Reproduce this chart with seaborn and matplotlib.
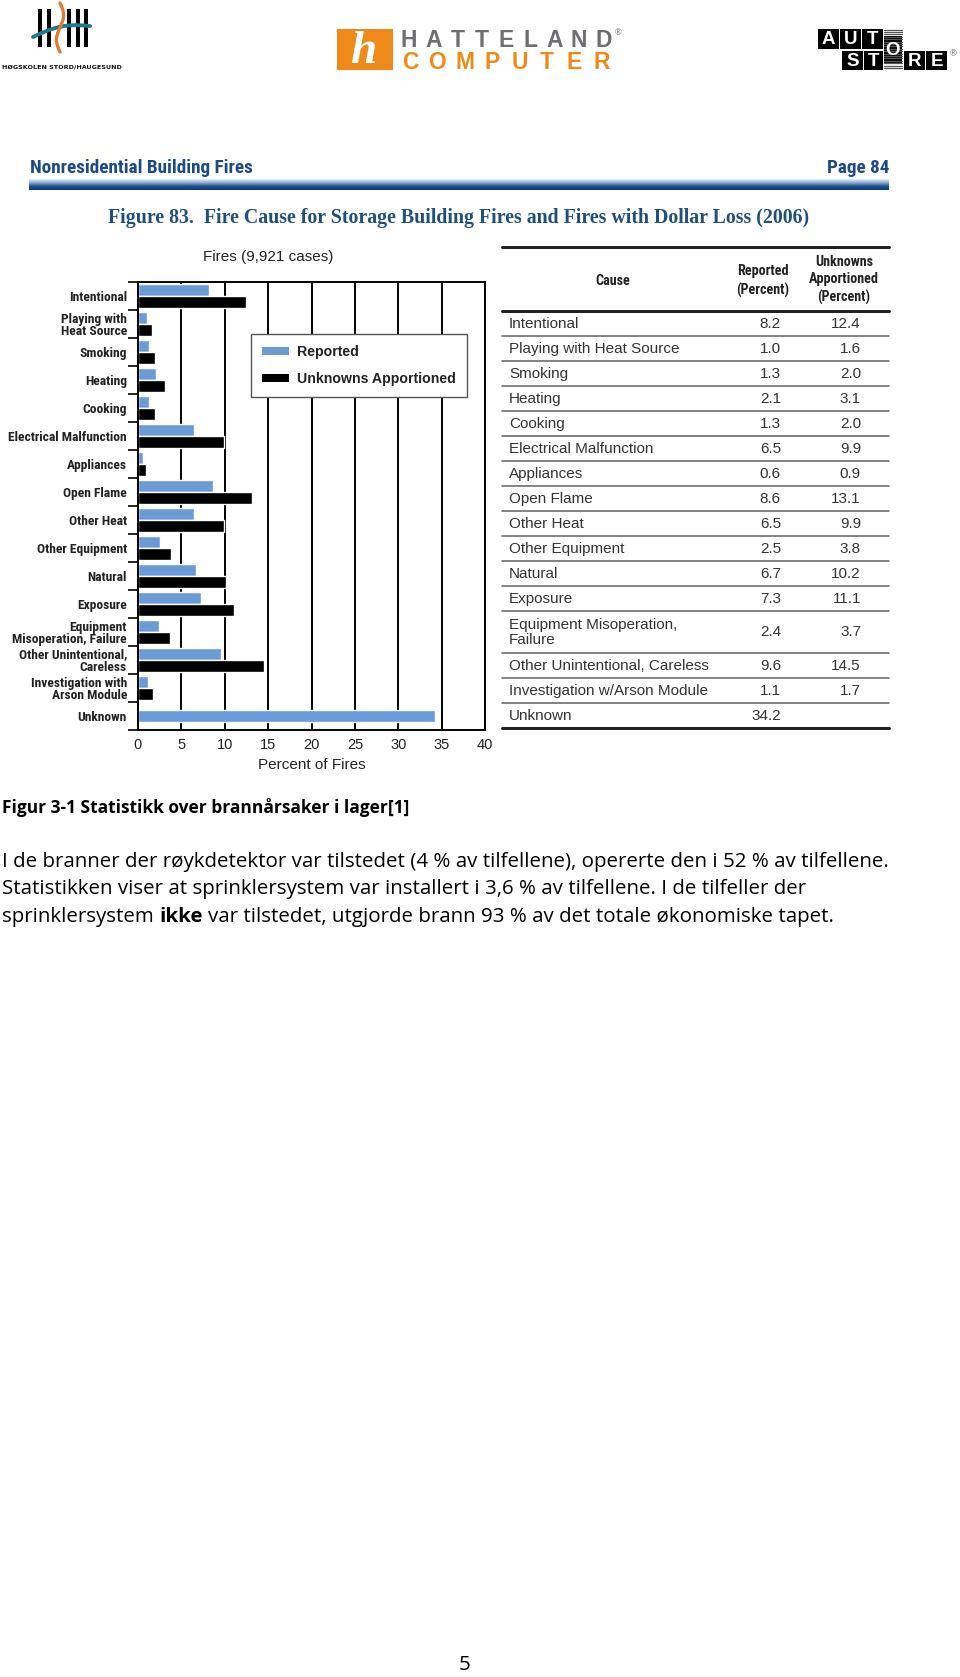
import numpy as np
import pandas as pd
import matplotlib
matplotlib.use("Agg")
import matplotlib.pyplot as plt
import seaborn as sns
from matplotlib import font_manager as fm
from matplotlib.patches import Rectangle, Patch
from matplotlib.colors import LinearSegmentedColormap

# ---------------- data ----------------
chart_labels = ["Intentional", "Playing with\nHeat Source", "Smoking", "Heating", "Cooking",
                "Electrical Malfunction", "Appliances", "Open Flame", "Other Heat",
                "Other Equipment", "Natural", "Exposure", "Equipment\nMisoperation, Failure",
                "Other Unintentional,\nCareless", "Investigation with\nArson Module", "Unknown"]
table_labels = ["Intentional", "Playing with Heat Source", "Smoking", "Heating", "Cooking",
                "Electrical Malfunction", "Appliances", "Open Flame", "Other Heat",
                "Other Equipment", "Natural", "Exposure", "Equipment Misoperation,\nFailure",
                "Other Unintentional, Careless", "Investigation w/Arson Module", "Unknown"]
reported = [8.2, 1.0, 1.3, 2.1, 1.3, 6.5, 0.6, 8.6, 6.5, 2.5, 6.7, 7.3, 2.4, 9.6, 1.1, 34.2]
unknowns_apportioned = [12.4, 1.6, 2.0, 3.1, 2.0, 9.9, 0.9, 13.1, 9.9, 3.8, 10.2, 11.1, 3.7,
                        14.5, 1.7, np.nan]
series_names = ["Reported", "Unknowns Apportioned"]
x_ticks = [0, 5, 10, 15, 20, 25, 30, 35, 40]
table_headers = ["Cause", "Reported\n(Percent)", "Unknowns\nApportioned\n(Percent)"]

page_header = "Nonresidential Building Fires"
page_label = "Page 84"
figure_title = "Figure 83.  Fire Cause for Storage Building Fires and Fires with Dollar Loss (2006)"
chart_title = "Fires (9,921 cases)"
x_label = "Percent of Fires"
caption = "Figur 3-1 Statistikk over brannårsaker i lager[1]"
body_line1 = "I de branner der røykdetektor var tilstedet (4 % av tilfellene), opererte den i 52 % av tilfellene."
body_line2 = "Statistikken viser at sprinklersystem var installert i 3,6 % av tilfellene. I de tilfeller der"
body_line3 = ["sprinklersystem", "ikke", "var tilstedet, utgjorde brann 93 % av det totale økonomiske tapet."]
page_number = "5"

# ---------------- fonts ----------------
avail = {f.name for f in fm.fontManager.ttflist}
def pick(*names):
    for n in names:
        if n in avail:
            return n
    return "DejaVu Sans"
SANS = pick("Liberation Sans", "Arimo", "DejaVu Sans")
SERIF = pick("Liberation Serif", "DejaVu Serif")
BODY = pick("Open Sans", "Lato", "Liberation Sans")

def find_condensed(bold=True):
    best = None
    for f in fm.fontManager.ttflist:
        fn = f.fname.lower()
        is_cond = ("narrow" in f.name.lower() or "condensed" in f.name.lower()
                   or "condensed" in fn or "narrow" in fn
                   or f.stretch in ("condensed", "semi-condensed"))
        if not is_cond or "extra" in fn or "ultra" in fn or "italic" in fn or "oblique" in fn:
            continue
        if f.style != "normal":
            continue
        w = f.weight if isinstance(f.weight, int) else (700 if "bold" in str(f.weight) else 400)
        if bold and w < 600:
            continue
        if not bold and w >= 600:
            continue
        if "semibold" in fn or "semi" in fn and "bold" in fn:
            if bold:
                continue
        rank = 5
        for i, key in enumerate(["liberation", "roboto", "noto", "open", "dejavu"]):
            if key in fn:
                rank = i
                break
        if best is None or rank < best[0]:
            best = (rank, f.fname)
    if best:
        return fm.FontProperties(fname=best[1])
    return fm.FontProperties(family=SANS, weight="bold" if bold else "normal")

COND_B = find_condensed(True)

sns.set_style("white")
plt.rcParams["font.family"] = [SANS, "DejaVu Sans"]

BLUE = "#6b9bd6"
TXT = "#333333"
W, H = 960, 1677

def P(px):
    return px * 0.72

fig = plt.figure(figsize=(W / 100, H / 100), dpi=100)
fig.patch.set_facecolor("white")
renderer = fig.canvas.get_renderer()

ov = fig.add_axes([0, 0, 1, 1])
ov.set_xlim(0, W)
ov.set_ylim(H, 0)
ov.axis("off")

def fp_size(fp, size):
    q = fp.copy()
    q.set_size(size)
    return q

def fit(text, target_px, fp=None, **kw):
    if fp is not None:
        t = ov.text(0, 0, text, fontproperties=fp_size(fp, 10))
    else:
        t = ov.text(0, 0, text, fontsize=10, **kw)
    w = t.get_window_extent(renderer).width
    t.remove()
    return 10 * target_px / w

# ---------------- logos ----------------
for bx in [38, 47, 67, 76, 84]:
    ov.add_patch(Rectangle((bx, 9), 4.0, 38, color="black", lw=0))
tt = np.linspace(0, 1, 50)
ov.plot(33 + 57 * tt, 37 - 11 * tt - 5 * np.sin(np.pi * tt), color="#1f7a8c", lw=2.8,
        solid_capstyle="round")
yy = np.linspace(3, 52, 60)
ov.plot(60 + 3.5 * np.sin((yy - 3) / 49 * 2 * np.pi), yy, color="#e07b39", lw=2.4)
ov.text(2, 67, "HØGSKOLEN STORD/HAUGESUND", fontsize=4.6, fontweight="bold",
        family=["DejaVu Sans"], va="center", ha="left", color="#111")

ov.add_patch(Rectangle((337, 29), 56, 41, color="#ef8a1a", lw=0))
ov.text(363, 52, "h", fontsize=34, color="white", style="italic", family=[SERIF],
        ha="center", va="center", fontweight="bold")
for i, ch in enumerate("HATTELAND"):
    ov.text(409 + i * 24.3, 40, ch, fontsize=16.5, color="#6d6e71", ha="center", va="center",
            family=[SANS], fontweight="bold")
for i, ch in enumerate("COMPUTER"):
    ov.text(410 + i * 27.4, 62, ch, fontsize=16.5, color="#ef8a1a", ha="center", va="center",
            family=[SANS], fontweight="bold")
ov.text(618, 33, "®", fontsize=6.5, color="#6d6e71", ha="center", va="center")

for y in np.arange(29.5, 70, 2.4):
    ov.plot([884, 902], [y, y], color="#555", lw=0.9)
for (x0, x1, y0, y1, ch) in [(818, 839, 29, 49, "A"), (840, 861, 29, 49, "U"),
                             (862, 883, 29, 49, "T"), (842, 863, 51, 70, "S"),
                             (864, 883, 51, 70, "T"), (884, 902, 36, 63, "O"),
                             (904, 925, 51, 70, "R"), (926, 947, 51, 70, "E")]:
    ov.add_patch(Rectangle((x0, y0), x1 - x0, y1 - y0, color="black", lw=0))
    ov.text((x0 + x1) / 2, (y0 + y1) / 2 + 0.5, ch, fontsize=13.5, fontweight="bold",
            color="white", ha="center", va="center", family=[SANS])
ov.text(953, 54, "®", fontsize=6.5, color="#555", ha="center", va="center")

# ---------------- page header ----------------
hs = fit(page_header, 223, fp=COND_B)
ov.text(30, 168, page_header, fontproperties=fp_size(COND_B, hs), color="#1b4a85",
        ha="left", va="center")
ov.text(889, 168, page_label, fontproperties=fp_size(COND_B, hs), color="#1b4a85",
        ha="right", va="center")
grad_cmap = LinearSegmentedColormap.from_list("hdr", ["#e3ecf7", "#8aaad3", "#1d4f8c", "#103c72"])
grad = np.linspace(0, 1, 40).reshape(-1, 1)
ov.imshow(grad, extent=(29, 889, 190, 179), cmap=grad_cmap, aspect="auto", origin="upper",
          interpolation="bilinear")
ov.set_xlim(0, W)
ov.set_ylim(H, 0)

ts = fit(figure_title, 703, family=[SERIF], fontweight="bold")
ov.text(459, 218, figure_title, fontsize=ts, color="#1f4f7c", family=[SERIF],
        fontweight="bold", ha="center", va="center")

# ---------------- chart ----------------
ax = fig.add_axes([138 / W, (H - 730) / H, 347 / W, 448 / H])
df = pd.DataFrame({"cause": chart_labels, series_names[0]: reported,
                   series_names[1]: unknowns_apportioned})
long = df.melt(id_vars="cause", var_name="series", value_name="pct").dropna(subset=["pct"])
counts = long.groupby("cause")["series"].transform("count")
paired = long[counts == 2]
single = long[counts == 1]
sns.barplot(data=paired, x="pct", y="cause", hue="series", order=chart_labels,
            hue_order=series_names, palette=[BLUE, "black"], orient="h", width=0.86,
            saturation=1, errorbar=None, legend=False, ax=ax)
sns.barplot(data=single, x="pct", y="cause", order=chart_labels, color=BLUE, orient="h",
            width=0.43, saturation=1, errorbar=None, ax=ax)
n = len(chart_labels)
ax.set_xlim(0, 40)
ax.set_ylim(n - 0.5, -0.5)
ax.set_xticks(x_ticks)
ax.set_xticklabels([str(t) for t in x_ticks], fontsize=10.5, color="#222")
ls = min(fit("Electrical Malfunction", 118, fp=COND_B), 10.5)
ax.set_yticks(range(n))
ax.set_yticklabels(chart_labels, fontproperties=fp_size(COND_B, ls), linespacing=0.95,
                   color="#222")
ax.set_yticks(np.arange(-0.5, n), minor=True)
ax.tick_params(axis="y", which="major", left=False, length=0, pad=P(11))
ax.tick_params(axis="y", which="minor", left=True, length=P(10), width=1.2, color="black",
               direction="out")
ax.tick_params(axis="x", which="both", bottom=False, length=0, pad=P(8))
ax.grid(axis="x", color="black", linewidth=1.4)
ax.grid(axis="y", visible=False)
ax.set_axisbelow(True)
for s in ax.spines.values():
    s.set_visible(True)
    s.set_color("black")
    s.set_linewidth(1.4)
ax.set_ylabel("")
ax.set_xlabel(x_label, fontsize=11, color="#222", labelpad=P(6))
ax.set_facecolor("white")

handles = [Patch(facecolor=BLUE, edgecolor="none"), Patch(facecolor="black", edgecolor="none")]
leg = ax.legend(handles, series_names, loc="upper left", bbox_to_anchor=(0.326, 0.884),
                frameon=True, fancybox=False, framealpha=1, edgecolor="#555",
                prop=dict(family=SANS, weight="bold", size=10.2), handlelength=1.95,
                handleheight=0.5, handletextpad=0.55, borderpad=0.75, labelspacing=0.95,
                borderaxespad=0)
leg.get_frame().set_linewidth(1.0)
for t in leg.get_texts():
    t.set_color("#222")

ov.text(268, 257, chart_title, fontsize=11, color="#222", ha="center", va="center")

# ---------------- table ----------------
TL, TR = 502, 889
hsz = min(fit("Apportioned", 70, fp=COND_B), 11)
ov.plot([TL, TR], [247, 247], color="#222", lw=P(3))
ov.text(613, 281, table_headers[0], fontproperties=fp_size(COND_B, hsz),
        ha="center", va="center", color="#222")
ov.text(763, 281, table_headers[1], fontproperties=fp_size(COND_B, hsz),
        ha="center", va="center", color="#222", linespacing=1.35)
ov.text(844, 280, table_headers[2], fontproperties=fp_size(COND_B, hsz),
        ha="center", va="center", color="#222", linespacing=1.3)
y = 311
ov.plot([TL, TR], [y, y], color="#222", lw=P(3))
for i, lab in enumerate(table_labels):
    h = 42 if "\n" in lab else 25
    yc = y + h / 2 + 0.5
    ov.text(509, yc, lab, fontsize=11, color=TXT, ha="left", va="center", linespacing=1.15)
    ov.text(781, yc, f"{reported[i]:.1f}", fontsize=11, color=TXT, ha="right", va="center")
    if not np.isnan(unknowns_apportioned[i]):
        ov.text(861, yc, f"{unknowns_apportioned[i]:.1f}", fontsize=11, color=TXT,
                ha="right", va="center")
    y += h
    last = i == len(table_labels) - 1
    ov.plot([TL, TR], [y, y], color="#222" if last else "#666", lw=P(3) if last else P(1.6))

# ---------------- caption & body text ----------------
cs = fit(caption, 408, family=[BODY], fontweight="bold")
ov.text(2, 807, caption, fontsize=cs, fontweight="bold", family=[BODY], ha="left",
        va="center", color="black")
bs = fit(body_line1, 885, family=[BODY])
ov.text(2, 862, body_line1, fontsize=bs, family=[BODY], ha="left", va="center", color="black")
ov.text(2, 889, body_line2, fontsize=bs, family=[BODY], ha="left", va="center", color="black")
t1 = ov.text(2, 922, body_line3[0], fontsize=bs, family=[BODY], ha="left", va="baseline",
             color="black")
sp = bs * 0.26
t2 = ov.annotate(body_line3[1], xy=(1, 0), xycoords=t1, xytext=(sp, 0),
                 textcoords="offset points", fontsize=bs, family=[BODY], fontweight="bold",
                 ha="left", va="bottom", color="black")
ov.annotate(body_line3[2], xy=(1, 0), xycoords=t2, xytext=(sp, 0), textcoords="offset points",
            fontsize=bs, family=[BODY], ha="left", va="bottom", color="black")

ov.text(465, 1665, page_number, fontsize=bs, family=[BODY], ha="center", va="center",
        color="black")

fig.savefig("out.png", dpi=100, facecolor="white")
